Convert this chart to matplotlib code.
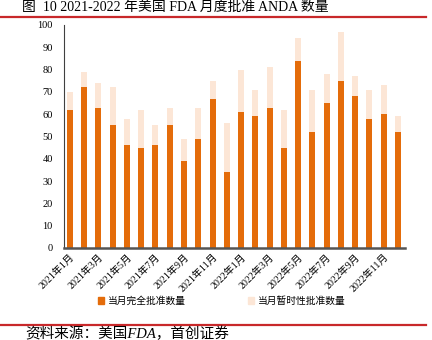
import matplotlib
matplotlib.use("Agg")
import matplotlib.pyplot as plt
from matplotlib.lines import Line2D
from matplotlib.patches import Patch

plt.rcParams['font.family'] = ['Liberation Serif', 'Noto Sans CJK SC', 'DejaVu Sans']

months = [f"{y}年{m}月" for y in (2021, 2022) for m in range(1, 13)]
full_approval = [62, 72, 63, 55, 46, 45, 46, 55, 39, 49, 67, 34,
                 61, 59, 63, 45, 84, 52, 65, 75, 68, 58, 60, 52]
total_approval = [70, 79, 74, 72, 58, 62, 55, 63, 49, 63, 75, 56,
                  80, 71, 81, 62, 94, 71, 78, 97, 77, 71, 73, 59]
tentative_approval = [t - f for t, f in zip(total_approval, full_approval)]

dark = '#E46C0A'
light = '#FCE6D6'

fig = plt.figure(figsize=(4.32, 3.40), dpi=100)
ax = fig.add_axes([0.148, 0.2706, 0.7895, 0.6559])

x = list(range(len(months)))
ax.bar(x, full_approval, width=0.42, color=dark, label='当月完全批准数量')
ax.bar(x, tentative_approval, width=0.42, bottom=full_approval, color=light,
       label='当月暂时性批准数量')

ax.set_xlim(-0.42, 23.5)
ax.set_ylim(0, 100)
ax.set_yticks(range(0, 101, 10))
ax.set_xticks(x[::2])
ax.set_xticklabels(months[::2], rotation=45, ha='right', rotation_mode='anchor',
                   fontsize=7.2)
ax.tick_params(axis='y', length=0, labelsize=7.5, pad=8)
ax.tick_params(axis='x', length=0, pad=3)
for s in ('top', 'right'):
    ax.spines[s].set_visible(False)
ax.spines['left'].set_color('#404040')
ax.spines['left'].set_linewidth(0.8)
ax.spines['bottom'].set_color('#555555')
ax.spines['bottom'].set_linewidth(1.8)

handles = [Patch(color=dark), Patch(color=light)]
fig.legend(handles, ['当月完全批准数量', '当月暂时性批准数量'],
           loc='center left', bbox_to_anchor=(0.226, 0.115), ncol=2,
           frameon=False, prop={'family': ['Noto Sans CJK SC'], 'size': 7},
           handlelength=0.7, handleheight=0.7, handletextpad=0.4,
           columnspacing=6.3, borderaxespad=0, borderpad=0)

fig.text(0.052, 0.978, '图  10 2021-2022 年美国 FDA 月度批准 ANDA 数量',
         ha='left', va='center', fontsize=10)
fig.add_artist(Line2D([0.0, 0.985], [0.949, 0.949], transform=fig.transFigure,
                      color='#C8282A', linewidth=1.6))
fig.add_artist(Line2D([0.0, 0.985], [0.044, 0.044], transform=fig.transFigure,
                      color='#C8282A', linewidth=1.6))
fig.text(0.058, 0.018, '资料来源：美国FDA，首创证券', ha='left', va='center',
         fontsize=10.5, style='italic')

fig.savefig('out.png', dpi=100)
